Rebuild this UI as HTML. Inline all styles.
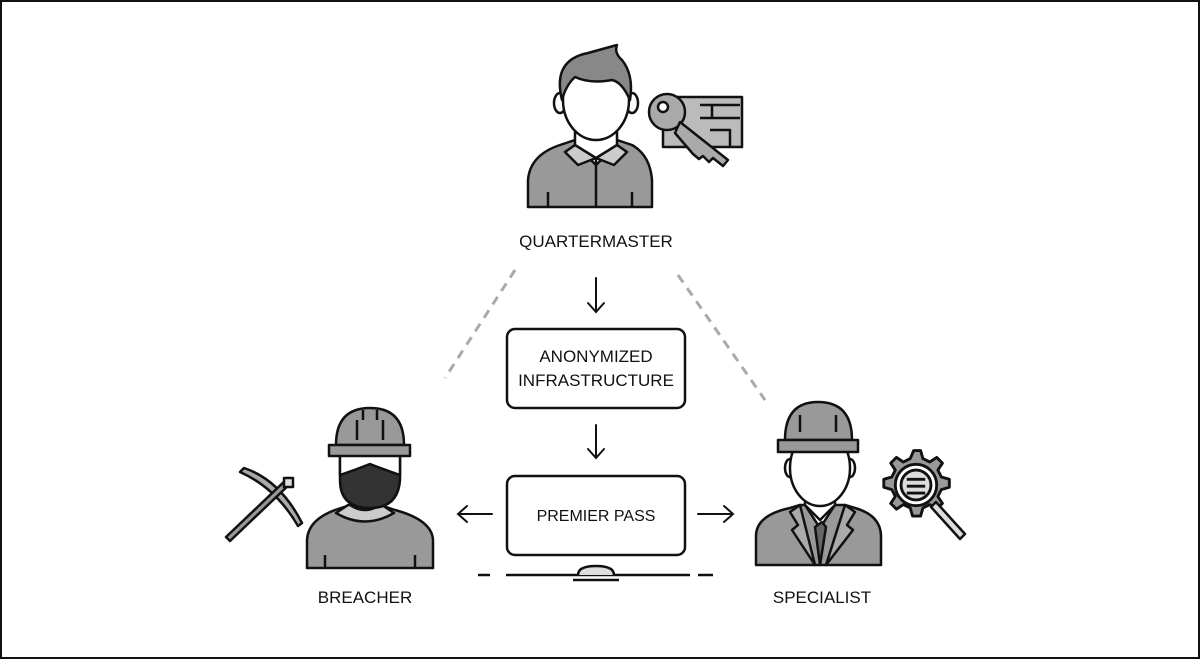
<!DOCTYPE html>
<html><head><meta charset="utf-8"><style>
html,body{margin:0;padding:0;background:#fff;}
svg{display:block;}
text{font-family:"Liberation Sans",sans-serif;fill:#111;}
</style></head><body>
<svg width="1200" height="659" viewBox="0 0 1200 659" xmlns="http://www.w3.org/2000/svg">
<rect x="1" y="1" width="1198" height="657" fill="#fff" stroke="#111" stroke-width="2"/>
<g stroke="#aaa" stroke-width="3" stroke-dasharray="9,7" fill="none">
<line x1="515" y1="270" x2="445" y2="378"/>
<line x1="678" y1="275" x2="765" y2="400"/>
</g>
<g stroke="#111" stroke-width="2" fill="none" stroke-linecap="round">
<path d="M596 278V312M588 303L596 312L604 303"/>
<path d="M596 425V458M588 449L596 458L604 449"/>
<path d="M492 514H458M467 506L458 514L467 522"/>
<path d="M698 514H733M724 506L733 514L724 522"/>
</g>
<rect x="507" y="329" width="178" height="79" rx="8" fill="#fff" stroke="#111" stroke-width="2.5"/>
<text x="596" y="362" font-size="17" text-anchor="middle">ANONYMIZED</text>
<text x="596" y="386" font-size="17" text-anchor="middle">INFRASTRUCTURE</text>
<rect x="507" y="476" width="178" height="79" rx="8" fill="#fff" stroke="#111" stroke-width="2.5"/>
<text x="596" y="521" font-size="16" text-anchor="middle">PREMIER PASS</text>
<g stroke="#111" stroke-width="2.5" fill="none">
<path d="M478 575H498M506 575H713"/>
<path d="M578 575Q578 566 596 566Q614 566 614 575" fill="#ddd"/>
<line x1="573" y1="580" x2="619" y2="580"/>
</g>
<rect x="490" y="572" width="14" height="7" fill="#fff"/>
<rect x="690" y="572" width="8" height="7" fill="#fff"/>
<!-- Quartermaster -->
<g stroke="#111" stroke-width="2.5" stroke-linejoin="round">
<path d="M528 207V180Q530 155 560 145L575 140H617L632 145Q650 155 652 180V207Z" fill="#999"/>
<path d="M575 130V145L596 165L617 145V130Z" fill="#fff"/>
<path d="M575 145L565 152L578 165L596 158ZM617 145L627 152L614 165L596 158Z" fill="#ccc"/>
<line x1="596" y1="158" x2="596" y2="207"/>
<line x1="548" y1="192" x2="548" y2="207"/><line x1="632" y1="192" x2="632" y2="207"/>
<ellipse cx="560" cy="103" rx="6" ry="10" fill="#fff"/>
<ellipse cx="632" cy="103" rx="6" ry="10" fill="#fff"/>
<ellipse cx="596" cy="100" rx="33" ry="40" fill="#fff"/>
<path d="M562 100Q552 60 588 53Q606 48 617 45Q614 53 622 60Q634 75 630 100Q622 82 612 80Q590 84 575 77Q566 85 562 100Z" fill="#888"/>
<rect x="663" y="97" width="79" height="50" fill="#bbb"/>
<path d="M700 105H740M700 118H740M712 105V118M710 130H730V147" fill="none"/>
<circle cx="667" cy="112" r="18" fill="#aaa"/>
<circle cx="663" cy="107" r="5" fill="#fff"/>
<path d="M680 122L728 160L723 166L713 158L709 162L703 156L699 159L693 154L675 133Z" fill="#aaa"/>
</g>
<text x="596" y="247" font-size="17" text-anchor="middle">QUARTERMASTER</text>
<!-- Breacher -->
<g stroke="#111" stroke-width="2.5" stroke-linejoin="round">
<path d="M307 568V540Q308 520 335 510L350 505H380L395 510Q432 520 433 540V568Z" fill="#999"/>
<path d="M336 513Q365 530 394 513L382 505H348Z" fill="#ccc"/>
<line x1="325" y1="555" x2="325" y2="568"/><line x1="415" y1="555" x2="415" y2="568"/>
<path d="M350 495V505Q365 515 380 505V495Z" fill="#fff"/>
<path d="M340 455V480Q340 508 370 508Q398 508 400 480V455Z" fill="#333"/>
<path d="M340 455V475Q355 470 370 464Q385 470 400 475V455Z" fill="#fff"/>
<path d="M336 445Q336 408 370 408Q404 408 404 445Z" fill="#999"/>
<rect x="329" y="445" width="81" height="11" fill="#999"/>
<path d="M357 420V440M383 420V440M363 410V420M377 410V420" fill="none"/>
<path d="M244 468Q280 480 302 523L298 526Q276 488 240 472Z" fill="#aaa"/>
<path d="M226 537L288 478L292 482L230 541Z" fill="#999"/>
<rect x="284" y="478" width="9" height="9" fill="#ddd"/>
</g>
<text x="365" y="603" font-size="17" text-anchor="middle">BREACHER</text>
<!-- Specialist -->
<g stroke="#111" stroke-width="2.5" stroke-linejoin="round">
<path d="M756 565V535Q757 515 790 508L800 505H845L855 508Q880 515 881 535V565Z" fill="#999"/>
<path d="M805 505L820 528L835 505Z" fill="#fff"/>
<path d="M815 527L820 565L826 527L822 522Z" fill="#666"/>
<path d="M800 505L790 512L798 525L792 530L815 565ZM845 505L855 512L847 525L853 530L826 565Z" fill="#aaa"/>
<path d="M805 485V505L820 520L835 505V485Z" fill="#fff"/>
<ellipse cx="790" cy="468" rx="5" ry="9" fill="#fff"/>
<ellipse cx="850" cy="468" rx="5" ry="9" fill="#fff"/>
<ellipse cx="820" cy="468" rx="30" ry="38" fill="#fff"/>
<path d="M785 440Q785 402 818 402Q852 402 852 440Z" fill="#999"/>
<rect x="778" y="440" width="80" height="12" fill="#999"/>
<path d="M800 415V432M836 415V432" fill="none"/>
<g transform="translate(916,485) scale(1.15) translate(-918,-485)">
<path d="M916 455l6 0 2 7 6 3 6-4 5 5-4 6 3 6 7 2v7l-7 2-3 6 4 6-5 5-6-4-6 3-2 7h-7l-2-7-6-3-6 4-5-5 4-6-3-6-7-2v-7l7-2 3-6-4-6 5-5 6 4 6-3z" fill="#999"/>
<circle cx="918" cy="485" r="18" fill="#fff"/>
<circle cx="918" cy="485" r="13" fill="#ddd"/>
<path d="M910 480H926M910 486H926M910 492H926" fill="none"/>
</g>
<path d="M936 502L965 534L960 539L931 507Z" fill="#ddd"/>
</g>
<text x="822" y="603" font-size="17" text-anchor="middle">SPECIALIST</text>
</svg>
</body></html>
